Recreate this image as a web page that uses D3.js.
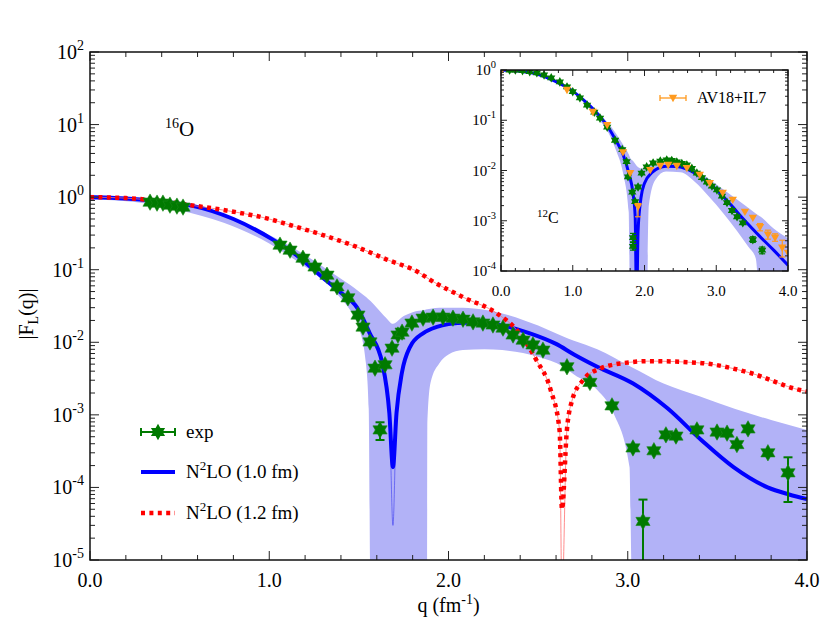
<!DOCTYPE html>
<html><head><meta charset="utf-8">
<script src="https://d3js.org/d3.v7.min.js"></script>
<style>
body{margin:0;background:#fff}
svg{display:block}
text{font-family:"Liberation Serif","DejaVu Serif",serif;fill:#000}
</style>
</head><body>
<svg id="c" width="830" height="642"></svg>
<script>
// ---------------- DATA (main: 16O) ----------------
const bandQ  = [0,0.25,0.5,0.75,1.0,1.2,1.3,1.4,1.45,1.5,1.54,1.555,1.565,1.6,1.65,1.69,1.75,1.8,1.87,1.88,1.882,1.9,1.95,2.0,2.08,2.2,2.3,2.5,2.64,2.7,2.83,2.92,3.01,3.025,3.2,3.4,3.6,3.8,4.0];
const bandHi = [1.08,0.98,0.8,0.55,0.3,0.16,0.11,0.075,0.062,0.05,0.042,0.039,0.037,0.03,0.022,0.018,0.023,0.026,0.028,0.0285,0.0285,0.029,0.0298,0.030,0.030,0.028,0.025,0.017,0.012,0.0105,0.0080,0.0062,0.0047,0.0045,0.0027,0.0018,0.0012,0.00085,0.00062];
const bandLo = [0.93,0.86,0.66,0.44,0.23,0.11,0.075,0.04,0.028,0.016,0.005,0.0012,1e-7,1e-7,1e-7,1e-7,1e-7,1e-7,1e-7,1e-7,0.0008,0.0028,0.0052,0.0068,0.0078,0.0080,0.0078,0.0063,0.0046,0.0036,0.0022,0.00106,0.00019,1e-7,1e-7,1e-7,1e-7,1e-7,1e-7];

const blueQ = [0,0.2,0.4,0.56,0.8,1.02,1.15,1.3,1.4,1.49,1.56,1.63,1.67,1.69,1.71,1.74,1.785,1.86,1.935,2.0,2.1,2.2,2.3,2.45,2.6,2.7,2.83,3.03,3.22,3.41,3.59,3.78,3.9,4.0];
const blueV = [1.0,0.96,0.87,0.77,0.5,0.26,0.16,0.077,0.048,0.03,0.0134,0.0052,0.00106,0.00003,0.00106,0.0038,0.0086,0.0134,0.0163,0.0178,0.0186,0.0184,0.017,0.0134,0.0095,0.0068,0.0046,0.0027,0.00124,0.00045,0.00019,0.0001,0.00008,0.000069];
const blueDipQ = 1.69, blueThickDip = 1.9e-4;

const redQ = [0,0.2,0.4,0.56,0.8,1.0,1.12,1.3,1.49,1.65,1.84,1.9,2.08,2.27,2.38,2.49,2.57,2.62,2.633,2.66,2.69,2.75,2.83,3.01,3.12,3.4,3.68,3.96,4.0];
const redV = [1.0,0.97,0.88,0.776,0.63,0.5,0.41,0.3,0.205,0.14,0.09,0.072,0.042,0.025,0.0148,0.0057,0.0022,0.0006,1e-7,0.0006,0.0016,0.003,0.0042,0.0053,0.0055,0.0052,0.0038,0.0022,0.0021];
const redDipQ = 2.633, redDotDip = 5e-5;

const expQ = [0.335,0.374,0.407,0.446,0.485,0.519,
  1.060,1.116,1.188,1.255,1.322,1.378,1.439,1.495,1.523,1.562,1.590,1.646,1.618,
  1.685,1.718,1.741,1.796,1.858,1.914,1.969,2.025,2.081,2.137,2.192,2.248,2.304,2.360,2.416,2.471,2.527,
  2.661,2.789,2.912,3.029,3.085,3.146,3.213,3.269,3.386,3.498,3.554,3.609,3.671,3.782,3.894];
const expV = [0.853,0.827,0.827,0.776,0.752,0.729,
  0.218,0.186,0.144,0.109,0.084,0.058,0.041,0.0237,0.0162,0.0101,0.0044,0.0049,0.00062,
  0.0083,0.0126,0.0138,0.0184,0.0215,0.0222,0.0222,0.0215,0.0208,0.0191,0.0184,0.0173,0.0157,0.0126,0.0107,0.0092,0.0078,
  0.0046,0.0028,0.00133,0.00035,0.000034,0.00032,0.00053,0.00051,0.00062,0.00058,0.00056,0.00039,0.00064,0.00030,0.000159];
const expErrHi = {18:0.00079, 40:0.000068, 50:0.00026};
const expErrLo = {18:0.00045, 40:0.000009, 50:0.000063};

// ---------------- DATA (inset: 12C) ----------------
const cBandQ  = [0,0.5,1.0,1.3,1.5,1.6,1.7,1.78,1.8,1.85,1.9,1.95,2.0,2.03,2.06,2.15,2.3,2.5,2.7,2.9,3.1,3.3,3.45,3.55,3.62,3.8,4.0];
const cBandHi = [1.05,0.87,0.4,0.17,0.085,0.055,0.033,0.021,0.018,0.015,0.012,0.011,0.0115,0.012,0.0125,0.0135,0.0138,0.013,0.0105,0.0068,0.0042,0.0026,0.0018,0.0014,0.0012,0.0007,0.00045];
const cBandLo = [0.95,0.79,0.36,0.13,0.055,0.026,0.009,0.0015,1e-7,1e-7,1e-7,1e-7,1e-7,1e-7,0.002,0.0065,0.0095,0.0092,0.006,0.003,0.0014,0.0006,0.0003,0.00018,1e-7,1e-7,1e-7];

const cBlueQ = [0,0.25,0.5,0.75,1.0,1.2,1.4,1.5,1.6,1.7,1.78,1.84,1.87,1.89,1.91,1.95,2.0,2.1,2.2,2.3,2.45,2.6,2.8,3.0,3.2,3.4,3.6,3.8,4.0];
const cBlueV = [1.0,0.95,0.83,0.6,0.38,0.22,0.11,0.07,0.04,0.021,0.009,0.0035,0.0012,1e-7,0.0006,0.0028,0.0056,0.009,0.0113,0.0122,0.012,0.0105,0.0072,0.0042,0.0021,0.001,0.0005,0.00026,0.00013];

const cExpQ = [0.12,0.2,0.3,0.4,0.5,0.6,0.7,0.82,0.92,1.0,1.1,1.2,1.3,1.38,1.48,1.59,1.69,1.75,1.77,1.83,1.87,1.84,1.84,1.91,1.96,2.03,2.12,2.22,2.31,2.38,2.45,2.52,2.59,2.66,2.73,2.8,2.87,2.94,3.01,3.08,3.15,3.22,3.29,3.37,3.51,3.64];
const cExpV = [1.0,1.0,0.97,0.93,0.88,0.8,0.7,0.58,0.46,0.37,0.28,0.2,0.145,0.11,0.073,0.04,0.026,0.015,0.0075,0.0037,0.0024,0.00046,0.00031,0.0047,0.0089,0.0118,0.0141,0.0154,0.0162,0.0158,0.0148,0.0138,0.0129,0.011,0.0089,0.0072,0.0059,0.0049,0.0041,0.0031,0.0023,0.0016,0.0012,0.00091,0.00042,0.00026];
const cExpErrHi = {21:0.00056, 22:0.00037, 44:0.00048, 45:0.0003};
const cExpErrLo = {21:0.00038, 22:0.00026, 44:0.00037, 45:0.00022};

const avQ = [0.01,0.92,1.28,1.48,1.70,1.80,1.91,2.08,2.22,2.33,2.45,2.59,2.77,2.91,3.09,3.23,3.40,3.51,3.61,3.72,3.82,3.92,4.0];
const avV = [1.0,0.40,0.146,0.08,0.023,0.0089,0.0019,0.0102,0.0123,0.0129,0.0123,0.0112,0.0082,0.0056,0.0036,0.0026,0.0015,0.00114,0.00075,0.00053,0.00046,0.00029,0.00023];
const avErrHi = {6:0.0022, 18:0.00088, 19:0.00065, 20:0.00055, 21:0.00041};
const avErrLo = {6:0.0012, 18:0.00063, 19:0.00043, 20:0.00039, 21:0.00019};

// ---------------- TICKS / LABELS ----------------
const xMajor = [0,1,2,3,4];
const xLabels = ["0.0","1.0","2.0","3.0","4.0"];
const xMinor = d3.range(0,4.0001,0.2);
const yExpMain = [-5,-4,-3,-2,-1,0,1,2];
const yExpInset = [-4,-3,-2,-1,0];
const legendLabels = ["exp","N²LO (1.0 fm)","N²LO (1.2 fm)"];

// ---------------- DRAW ----------------
const svg = d3.select("#c");
const M = {l:90, r:807, t:52, b:560};
const I = {l:501, r:788, t:70, b:271};

const x = d3.scaleLinear().domain([0,4]).range([M.l,M.r]);
const y = d3.scaleLog().domain([1e-5,1e2]).range([M.b,M.t]);
const xi = d3.scaleLinear().domain([0,4]).range([I.l,I.r]);
const yi = d3.scaleLog().domain([1e-4,1]).range([I.b,I.t]);

const BAND = "#b2b2f7", BLUE = "#0000ff", RED = "#ff0000", GREEN = "#007a00", ORANGE = "#ff9a1e";

const defs = svg.append("defs");
defs.append("clipPath").attr("id","cm").append("rect").attr("x",M.l).attr("y",M.t).attr("width",M.r-M.l).attr("height",M.b-M.t);
defs.append("clipPath").attr("id","ci").append("rect").attr("x",I.l).attr("y",I.t).attr("width",I.r-I.l).attr("height",I.b-I.t);

function clampPix(v, ys){ const r = ys.range(); return Math.min(ys(v), r[0]+40); }

function hexagram(cx, cy, R){
  const r = R/Math.sqrt(3); const pts=[];
  for(let k=0;k<12;k++){ const a=(-90+k*30)*Math.PI/180; const rr = k%2===0?R:r; pts.push([cx+rr*Math.cos(a), cy+rr*Math.sin(a)]); }
  return "M"+pts.map(p=>p[0].toFixed(2)+","+p[1].toFixed(2)).join("L")+"Z";
}
function triDown(cx, cy, s){
  return `M${cx-s},${cy-s*0.75}L${cx+s},${cy-s*0.75}L${cx},${cy+s}Z`;
}

function logTicks(lo, hi){ const arr=[]; for(let e=lo;e<hi;e++){ for(let k=2;k<=9;k++) arr.push(k*Math.pow(10,e)); } return arr; }

function drawFrameAxes(g, xs, ys, o, majLen, minLen, expList){
  const xm = g.append("g");
  xMinor.forEach(v=>{
    const isMaj = xMajor.some(m=>Math.abs(m-v)<1e-6);
    const L = isMaj?majLen:minLen;
    xm.append("line").attr("x1",xs(v)).attr("x2",xs(v)).attr("y1",o.b).attr("y2",o.b-L);
    xm.append("line").attr("x1",xs(v)).attr("x2",xs(v)).attr("y1",o.t).attr("y2",o.t+L);
  });
  expList.forEach(e=>{
    const v=Math.pow(10,e);
    xm.append("line").attr("x1",o.l).attr("x2",o.l+majLen).attr("y1",ys(v)).attr("y2",ys(v));
    xm.append("line").attr("x1",o.r).attr("x2",o.r-majLen).attr("y1",ys(v)).attr("y2",ys(v));
  });
  logTicks(expList[0], expList[expList.length-1]).forEach(v=>{
    xm.append("line").attr("x1",o.l).attr("x2",o.l+minLen).attr("y1",ys(v)).attr("y2",ys(v));
    xm.append("line").attr("x1",o.r).attr("x2",o.r-minLen).attr("y1",ys(v)).attr("y2",ys(v));
  });
  xm.attr("stroke","#222").attr("stroke-width",1);
  g.append("rect").attr("x",o.l).attr("y",o.t).attr("width",o.r-o.l).attr("height",o.b-o.t)
    .attr("fill","none").attr("stroke","#111").attr("stroke-width",1.5);
}

function drawBand(g, xs, ys, Q, lo, hi){
  const data = Q.map((q,i)=>({q, lo:lo[i], hi:hi[i]}));
  const area = d3.area().x(d=>xs(d.q)).y0(d=>clampPix(d.lo,ys)).y1(d=>clampPix(d.hi,ys)).curve(d3.curveMonotoneX);
  g.append("path").attr("d",area(data)).attr("fill",BAND).attr("stroke","none");
}
// dipQ/dipV: optionally replace the value at the dip (thick stroke ends above the thin one)
function drawLine(g, xs, ys, Q, V, dipQ, dipV, attrs){
  const data = Q.map((q,i)=>({q, v: (dipQ!==null && Math.abs(q-dipQ)<1e-9) ? dipV : V[i]}));
  const line = d3.line().x(d=>xs(d.q)).y(d=>clampPix(d.v,ys)).curve(d3.curveMonotoneX);
  const p = g.append("path").attr("d",line(data)).attr("fill","none");
  Object.entries(attrs).forEach(([k,v])=>p.attr(k,v));
  return p;
}
function drawErr(g, xs, ys, Q, V, hiMap, loMap, color, cap, w){
  Object.keys(hiMap).forEach(k=>{
    const i=+k; const xx=xs(Q[i]);
    const y1=ys(hiMap[k]), y2=clampPix(loMap[k],ys);
    g.append("line").attr("x1",xx).attr("x2",xx).attr("y1",y1).attr("y2",y2).attr("stroke",color).attr("stroke-width",w);
    g.append("line").attr("x1",xx-cap).attr("x2",xx+cap).attr("y1",y1).attr("y2",y1).attr("stroke",color).attr("stroke-width",w);
    g.append("line").attr("x1",xx-cap).attr("x2",xx+cap).attr("y1",y2).attr("y2",y2).attr("stroke",color).attr("stroke-width",w);
  });
}

// ---- main plot ----
const gm = svg.append("g").attr("clip-path","url(#cm)");
drawBand(gm, x, y, bandQ, bandLo, bandHi);
drawLine(gm, x, y, blueQ, blueV, null, null, {stroke:"#3a3af0","stroke-width":1,"stroke-opacity":0.6});
drawLine(gm, x, y, blueQ, blueV, blueDipQ, blueThickDip, {stroke:BLUE,"stroke-width":4,"stroke-linejoin":"round"});
drawLine(gm, x, y, redQ, redV, null, null, {stroke:"#ff7070","stroke-width":1,"stroke-opacity":0.8});
drawLine(gm, x, y, redQ, redV, redDipQ, redDotDip, {stroke:RED,"stroke-width":4.5,"stroke-dasharray":"4,4.4"});
drawErr(gm, x, y, expQ, expV, expErrHi, expErrLo, GREEN, 4.5, 2);
gm.append("g").selectAll("path").data(expQ).join("path")
  .attr("d",(q,i)=>hexagram(x(q), y(expV[i]), 8.2)).attr("fill",GREEN).attr("stroke","#1a8a1a").attr("stroke-width",0.6);

drawFrameAxes(svg.append("g"), x, y, M, 9, 5, yExpMain);

xMajor.forEach((v,i)=>{
  svg.append("text").attr("x",x(v)).attr("y",M.b+27).attr("text-anchor","middle").attr("font-size",20).text(xLabels[i]);
});
yExpMain.forEach(e=>{
  const t = svg.append("text").attr("x",M.l-6).attr("y",y(Math.pow(10,e))+7).attr("text-anchor","end").attr("font-size",20);
  t.append("tspan").text("10");
  t.append("tspan").attr("dy",-9).attr("font-size",14).text(String(e));
});
const xt = svg.append("text").attr("x",(M.l+M.r)/2).attr("y",612).attr("text-anchor","middle").attr("font-size",20);
xt.append("tspan").text("q (fm");
xt.append("tspan").attr("dy",-8).attr("font-size",14).text("-1");
xt.append("tspan").attr("dy",8).text(")");
const yt = svg.append("text").attr("transform",`translate(33,${(M.t+M.b)/2+8}) rotate(-90)`).attr("text-anchor","middle").attr("font-size",20);
yt.append("tspan").text("|F");
yt.append("tspan").attr("dy",5).attr("font-size",14).text("L");
yt.append("tspan").attr("dy",-5).text("(q)|");
const ot = svg.append("text").attr("x",165).attr("y",136).attr("font-size",21);
ot.append("tspan").attr("dy",-8).attr("font-size",14).text("16");
ot.append("tspan").attr("dy",8).text("O");

// legend
const lg = svg.append("g");
const lx0=141, lx1=175, lxT=186, ly=[432,472,513];
lg.append("line").attr("x1",lx0).attr("x2",lx1).attr("y1",ly[0]).attr("y2",ly[0]).attr("stroke",GREEN).attr("stroke-width",2);
[lx0,lx1].forEach(xx=>lg.append("line").attr("x1",xx).attr("x2",xx).attr("y1",ly[0]-4).attr("y2",ly[0]+4).attr("stroke",GREEN).attr("stroke-width",2));
lg.append("path").attr("d",hexagram((lx0+lx1)/2, ly[0], 8.2)).attr("fill",GREEN);
lg.append("line").attr("x1",lx0).attr("x2",lx1).attr("y1",ly[1]).attr("y2",ly[1]).attr("stroke",BLUE).attr("stroke-width",4);
lg.append("line").attr("x1",lx0).attr("x2",lx1).attr("y1",ly[2]).attr("y2",ly[2]).attr("stroke",RED).attr("stroke-width",4.5).attr("stroke-dasharray","4,4.4");
legendLabels.forEach((s,i)=>{
  const t = lg.append("text").attr("x",lxT).attr("y",ly[i]+6).attr("font-size",19);
  if(s.indexOf("²")>=0){
    const parts=s.split("²");
    t.append("tspan").text(parts[0]);
    t.append("tspan").attr("dy",-8).attr("font-size",13).text("2");
    t.append("tspan").attr("dy",8).text(parts[1]);
  } else t.text(s);
});

// ---- inset ----
svg.append("rect").attr("x",I.l).attr("y",I.t).attr("width",I.r-I.l).attr("height",I.b-I.t).attr("fill","#fff");
const gi = svg.append("g").attr("clip-path","url(#ci)");
drawBand(gi, xi, yi, cBandQ, cBandLo, cBandHi);
drawLine(gi, xi, yi, cBlueQ, cBlueV, null, null, {stroke:BLUE,"stroke-width":3,"stroke-linejoin":"round"});
drawErr(gi, xi, yi, cExpQ, cExpV, cExpErrHi, cExpErrLo, GREEN, 3, 1.2);
gi.append("g").selectAll("path").data(cExpQ).join("path")
  .attr("d",(q,i)=>hexagram(xi(q), yi(cExpV[i]), 4.8)).attr("fill",GREEN);
drawErr(gi, xi, yi, avQ, avV, avErrHi, avErrLo, ORANGE, 3, 1.2);
gi.append("g").selectAll("path").data(avQ).join("path")
  .attr("d",(q,i)=>triDown(xi(q), yi(avV[i]), 4.2)).attr("fill",ORANGE);

drawFrameAxes(svg.append("g"), xi, yi, I, 6, 3, yExpInset);
xMajor.forEach((v,i)=>{
  svg.append("text").attr("x",xi(v)).attr("y",I.b+25).attr("text-anchor","middle").attr("font-size",15).text(xLabels[i]);
});
yExpInset.forEach(e=>{
  const t = svg.append("text").attr("x",I.l-5).attr("y",yi(Math.pow(10,e))+5).attr("text-anchor","end").attr("font-size",15);
  t.append("tspan").text("10");
  t.append("tspan").attr("dy",-7).attr("font-size",10.5).text(String(e));
});
const ct = svg.append("text").attr("x",537).attr("y",223).attr("font-size",16);
ct.append("tspan").attr("dy",-6).attr("font-size",11).text("12");
ct.append("tspan").attr("dy",6).text("C");
const il = svg.append("g");
const ilx0=660, ilx1=686, ily=98;
il.append("line").attr("x1",ilx0).attr("x2",ilx1).attr("y1",ily).attr("y2",ily).attr("stroke",ORANGE).attr("stroke-width",1.3);
[ilx0,ilx1].forEach(xx=>il.append("line").attr("x1",xx).attr("x2",xx).attr("y1",ily-3).attr("y2",ily+3).attr("stroke",ORANGE).attr("stroke-width",1.3));
il.append("path").attr("d",triDown((ilx0+ilx1)/2, ily, 4.2)).attr("fill",ORANGE);
il.append("text").attr("x",697).attr("y",ily+5).attr("font-size",16).text("AV18+IL7");
</script>
</body></html>
